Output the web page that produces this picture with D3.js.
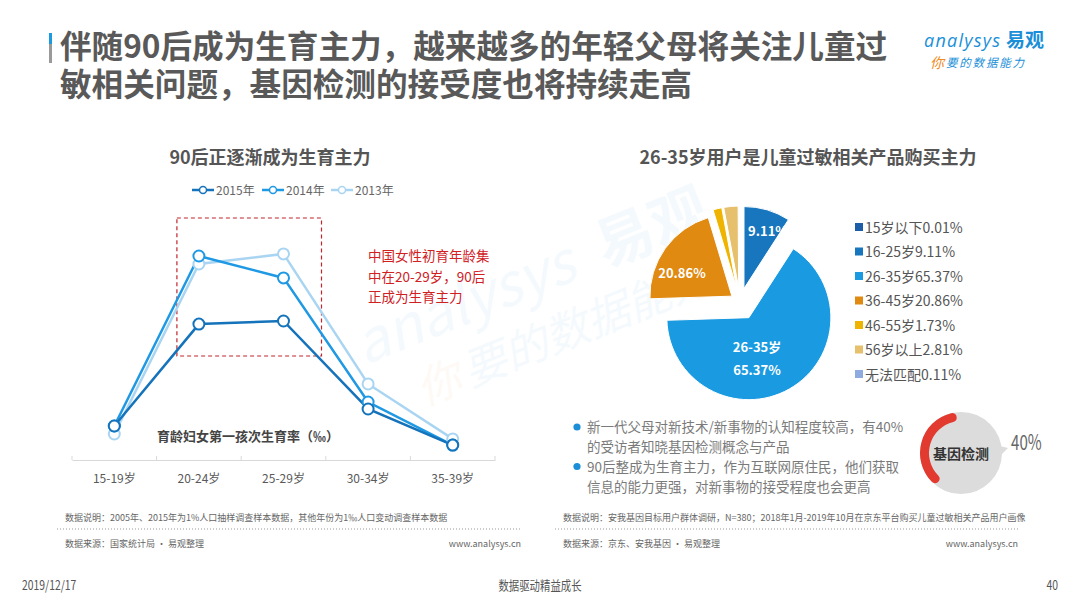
<!DOCTYPE html>
<html>
<head>
<meta charset="utf-8">
<script src="https://cdn.jsdelivr.net/npm/d3@7"></script>
<style>
  body { margin: 0; background: #fff; }
  svg { display: block; font-family: "Noto Sans CJK SC", "Noto Sans", sans-serif; }
</style>
</head>
<body>
<div id="slide"></div>
<script>
// ---- data ----
const ageGroups = ["15-19岁", "20-24岁", "25-29岁", "30-34岁", "35-39岁"];
const seriesNames = ["2015年", "2014年", "2013年"];
const rate2015 = [12.4, 51.9, 53.1, 19.0, 5.0];
const rate2014 = [12.4, 78.3, 69.8, 21.7, 5.0];
const rate2013 = [9.3, 75.2, 79.1, 28.7, 7.4];

const buyerGroups = ["15岁以下", "16-25岁", "26-35岁", "36-45岁", "46-55岁", "56岁以上", "无法匹配"];
const buyerShare = [0.01, 9.11, 65.37, 20.86, 1.73, 2.81, 0.11];

const awareShare = 40;

const width = 1080, height = 608;

const svg = d3.select("#slide").append("svg")
    .attr("width", width)
    .attr("height", height);

// ---- watermark (faint) ----
const wm = svg.append("g")
    .attr("transform", "translate(500,300) rotate(-22)")
    .attr("opacity", 0.045);
wm.append("text").attr("x", -150).attr("y", 10)
    .attr("font-size", 58).attr("font-style", "italic").attr("fill", "#1a8fd8")
    .text("analysys");
wm.append("text").attr("x", 110).attr("y", 10)
    .attr("font-size", 58).attr("font-weight", "bold").attr("fill", "#1a8fd8")
    .text("易观");
wm.append("text").attr("x", -60).attr("y", 70)
    .attr("font-size", 44).attr("font-style", "italic").attr("fill", "#1a8fd8")
    .text("要的数据能力");
wm.append("text").attr("x", -110).attr("y", 70)
    .attr("font-size", 44).attr("font-style", "italic").attr("fill", "#f08a24")
    .text("你");

// ---- header ----
svg.append("rect").attr("x", 49).attr("y", 33).attr("width", 3).attr("height", 11).attr("fill", "#1a9ae0");
svg.append("rect").attr("x", 49).attr("y", 44).attr("width", 3).attr("height", 19).attr("fill", "#9a9a9a");

// title, two lines
[["伴随90后成为生育主力，越来越多的年轻父母将关注儿童过", 58],
 ["敏相关问题，基因检测的接受度也将持续走高", 96]].forEach(([t, y]) => {
    svg.append("text")
        .attr("x", 60).attr("y", y)
        .attr("font-size", 31.6)
        .attr("font-weight", "bold")
        .attr("fill", "#595959")
        .text(t);
});

// logo
svg.append("text").attr("x", 924).attr("y", 47)
    .attr("font-size", 18).attr("font-style", "italic").attr("fill", "#1a8fd8")
    .attr("font-family", "'Open Sans', 'Noto Sans', sans-serif")
    .attr("textLength", 76)
    .text("analysys");
svg.append("text").attr("x", 1006).attr("y", 47)
    .attr("font-size", 19).attr("font-weight", "bold").attr("fill", "#1a8fd8")
    .text("易观");
svg.append("text").attr("x", 946).attr("y", 67)
    .attr("font-size", 11.5).attr("font-style", "italic").attr("fill", "#1a8fd8")
    .attr("letter-spacing", 1.8)
    .text("要的数据能力");
svg.append("text").attr("x", 930).attr("y", 68)
    .attr("font-size", 14).attr("font-style", "italic").attr("fill", "#f08a24")
    .text("你");

// ---- left chart: line ----
const left = svg.append("g");

left.append("text")
    .attr("x", 270).attr("y", 164)
    .attr("text-anchor", "middle")
    .attr("font-size", 18).attr("font-weight", "bold").attr("fill", "#555")
    .text("90后正逐渐成为生育主力");

const xScale = d3.scaleBand().domain(ageGroups).range([72, 495]);
const yScale = d3.scaleLinear().domain([0, 100]).range([458, 200]);

const lineColors = d3.scaleOrdinal()
    .domain(seriesNames)
    .range(["#1473bb", "#1f99e3", "#a9d5f2"]);

const series = [
    {name: "2015年", values: rate2015},
    {name: "2014年", values: rate2014},
    {name: "2013年", values: rate2013}
];

// legend
const legX = [192, 262, 331];
series.forEach((s, i) => {
    const g = left.append("g").attr("transform", `translate(${legX[i]},190)`);
    g.append("line").attr("x1", 0).attr("x2", 22).attr("y1", 0).attr("y2", 0)
        .attr("stroke", lineColors(s.name)).attr("stroke-width", 2.5);
    g.append("circle").attr("cx", 11).attr("cy", 0).attr("r", 3.5)
        .attr("fill", "#fff").attr("stroke", lineColors(s.name)).attr("stroke-width", 1.5);
    g.append("text").attr("x", 24).attr("y", 4.5)
        .attr("font-size", 12).attr("fill", "#666")
        .text(s.name);
});

// x axis
const xAxis = d3.axisBottom(xScale).tickSize(0).tickPadding(14);
const xAxisG = left.append("g")
    .attr("transform", "translate(0,460)")
    .call(xAxis);
xAxisG.select(".domain").attr("stroke", "#d9d9d9");
xAxisG.selectAll("text").attr("font-size", 12).attr("fill", "#595959")
    .attr("font-family", "'Noto Sans CJK SC', sans-serif");
// category boundary ticks
left.selectAll(".bound")
    .data(ageGroups.concat(["end"]))
    .join("line")
    .attr("class", "bound")
    .attr("x1", (d, i) => i < ageGroups.length ? xScale(d) : xScale.range()[1])
    .attr("x2", (d, i) => i < ageGroups.length ? xScale(d) : xScale.range()[1])
    .attr("y1", 456).attr("y2", 460)
    .attr("stroke", "#d9d9d9");

// dashed highlight box over 20-29
const boxX0 = xScale("20-24岁") + xScale.bandwidth() / 2 - 22;
const boxX1 = xScale("25-29岁") + xScale.bandwidth() / 2 + 38;
left.append("rect")
    .attr("x", boxX0).attr("y", 218)
    .attr("width", boxX1 - boxX0).attr("height", 138)
    .attr("fill", "none")
    .attr("stroke", "#c0272d")
    .attr("stroke-width", 1.2)
    .attr("stroke-dasharray", "4,3");

// lines
const lineGen = d3.line()
    .x((d, i) => xScale(ageGroups[i]) + xScale.bandwidth() / 2)
    .y(d => yScale(d));

[...series].reverse().forEach(s => {
    left.append("path")
        .datum(s.values)
        .attr("d", lineGen)
        .attr("fill", "none")
        .attr("stroke", lineColors(s.name))
        .attr("stroke-width", 2.5);
});
[...series].reverse().forEach(s => {
    left.selectAll(null)
        .data(s.values)
        .join("circle")
        .attr("cx", (d, i) => xScale(ageGroups[i]) + xScale.bandwidth() / 2)
        .attr("cy", d => yScale(d))
        .attr("r", 5.5)
        .attr("fill", "#fff")
        .attr("stroke", lineColors(s.name))
        .attr("stroke-width", 2);
});

// annotation
const note = left.append("text").attr("font-size", 13.5).attr("fill", "#d0201f");
["中国女性初育年龄集", "中在20-29岁，90后", "正成为生育主力"].forEach((t, i) => {
    note.append("tspan").attr("x", 368).attr("y", 261 + i * 20.5).text(t);
});

left.append("text")
    .attr("x", 157).attr("y", 441)
    .attr("font-size", 13).attr("font-weight", "bold").attr("fill", "#444")
    .text("育龄妇女第一孩次生育率（‰）");

// ---- right chart: pie ----
const right = svg.append("g");

right.append("text")
    .attr("x", 808).attr("y", 164)
    .attr("text-anchor", "middle")
    .attr("font-size", 18).attr("font-weight", "bold").attr("fill", "#555")
    .text("26-35岁用户是儿童过敏相关产品购买主力");

const pieColor = d3.scaleOrdinal()
    .domain(buyerGroups)
    .range(["#1d5ea8", "#1776bd", "#1a9ae0", "#e08a12", "#efb400", "#e6c06c", "#8eaadf"]);

const pieData = d3.pie().sort(null).value(d => d.v)(
    buyerGroups.map((g, i) => ({g: g, v: buyerShare[i]}))
);
const pieR = 82;
const arc = d3.arc().innerRadius(0).outerRadius(pieR);
const explode = {"26-35岁": 18, "36-45岁": 10};

const pieG = right.append("g").attr("transform", "translate(740,302)");
pieG.selectAll("path")
    .data(pieData)
    .join("path")
    .attr("transform", d => {
        const a = (d.startAngle + d.endAngle) / 2;
        const off = explode[d.data.g] || 14;
        return `translate(${Math.sin(a) * off},${-Math.cos(a) * off})`;
    })
    .attr("d", arc)
    .attr("fill", d => pieColor(d.data.g))
    .attr("stroke", "#fff")
    .attr("stroke-width", 1);

// slice labels
const sliceLabels = [
    {g: "16-25岁", lines: [buyerShare[1].toFixed(2) + "%"], dx: 28, dy: -66},
    {g: "36-45岁", lines: [buyerShare[3].toFixed(2) + "%"], dx: -58, dy: -24},
    {g: "26-35岁", lines: ["26-35岁", buyerShare[2].toFixed(2) + "%"], dx: 17, dy: 50}
];
sliceLabels.forEach(l => {
    const t = pieG.append("text")
        .attr("text-anchor", "middle")
        .attr("font-size", 13).attr("font-weight", "bold").attr("fill", "#fff");
    l.lines.forEach((s, i) => {
        t.append("tspan").attr("x", l.dx).attr("y", l.dy + i * 23).text(s);
    });
});

// pie legend
const pieLeg = right.append("g").attr("transform", "translate(855,228)");
buyerGroups.forEach((g, i) => {
    const row = pieLeg.append("g").attr("transform", `translate(0,${i * 24.5})`);
    row.append("rect").attr("x", 0).attr("y", -5).attr("width", 8).attr("height", 8)
        .attr("fill", pieColor(g));
    row.append("text").attr("x", 10).attr("y", 4.5)
        .attr("font-size", 14).attr("fill", "#555")
        .text(g + buyerShare[i] + "%");
});

// bullets
const bullets = [
    ["新一代父母对新技术/新事物的认知程度较高，有40%", "的受访者知晓基因检测概念与产品"],
    ["90后整成为生育主力，作为互联网原住民，他们获取", "信息的能力更强，对新事物的接受程度也会更高"]
];
bullets.forEach((b, i) => {
    const y0 = 432 + i * 39.5;
    right.append("circle").attr("cx", 577).attr("cy", y0 - 5).attr("r", 3.6).attr("fill", "#1a8fd8");
    b.forEach((line, j) => {
        right.append("text").attr("x", 587).attr("y", y0 + j * 20)
            .attr("font-size", 13.5).attr("fill", "#7a7a7a")
            .text(line);
    });
});

// gauge
const gCx = 961, gCy = 453, gR = 41;
const gauge = right.append("g").attr("transform", `translate(${gCx},${gCy})`);
gauge.append("path")
    .attr("d", `M${gR - 2},-7 L${gR + 6},-5 L${gR - 2},3 Z`)
    .attr("fill", "#dcdcdc");
gauge.append("circle").attr("r", gR).attr("fill", "#dcdcdc");
const gaugeArc = d3.arc()
    .innerRadius(gR - 9).outerRadius(gR)
    .startAngle(-2 * Math.PI * awareShare / 100 + 0.04)
    .endAngle(-0.12)
    .cornerRadius(4.5);
gauge.append("path").attr("d", gaugeArc()).attr("fill", "#e23a2e");
gauge.append("text").attr("x", 0).attr("y", 6)
    .attr("text-anchor", "middle")
    .attr("font-size", 14).attr("font-weight", "bold").attr("fill", "#333")
    .text("基因检测");
right.append("text")
    .attr("transform", "translate(1011,450) scale(0.72,1)")
    .attr("font-size", 21).attr("fill", "#666")
    .text(awareShare + "%");

// ---- footnotes ----
function footnote(x0, x1, desc, source) {
    svg.append("text").attr("x", x0 + 8).attr("y", 521)
        .attr("font-size", 9).attr("fill", "#666").text(desc);
    svg.append("line").attr("x1", x0).attr("x2", x1).attr("y1", 529).attr("y2", 529)
        .attr("stroke", "#999").attr("stroke-dasharray", "1,2");
    svg.append("text").attr("x", x0 + 8).attr("y", 547)
        .attr("font-size", 9).attr("fill", "#666").text(source);
    svg.append("text").attr("x", x1).attr("y", 547).attr("text-anchor", "end")
        .attr("font-size", 9).attr("fill", "#666").text("www.analysys.cn");
}
footnote(57, 521, "数据说明：2005年、2015年为1%人口抽样调查样本数据，其他年份为1‰人口变动调查样本数据", "数据来源：国家统计局 · 易观整理");
footnote(555, 1018, "数据说明：安我基因目标用户群体调研，N=380；2018年1月-2019年10月在京东平台购买儿童过敏相关产品用户画像", "数据来源：京东、安我基因 · 易观整理");

// ---- page footer ----
function condensed(x, anchor, t) {
    svg.append("text")
        .attr("transform", `translate(${x},590) scale(0.8,1)`)
        .attr("text-anchor", anchor)
        .attr("font-size", 13).attr("fill", "#555").text(t);
}
condensed(22, "start", "2019/12/17");
condensed(540, "middle", "数据驱动精益成长");
condensed(1058, "end", "40");
</script>
</body>
</html>
